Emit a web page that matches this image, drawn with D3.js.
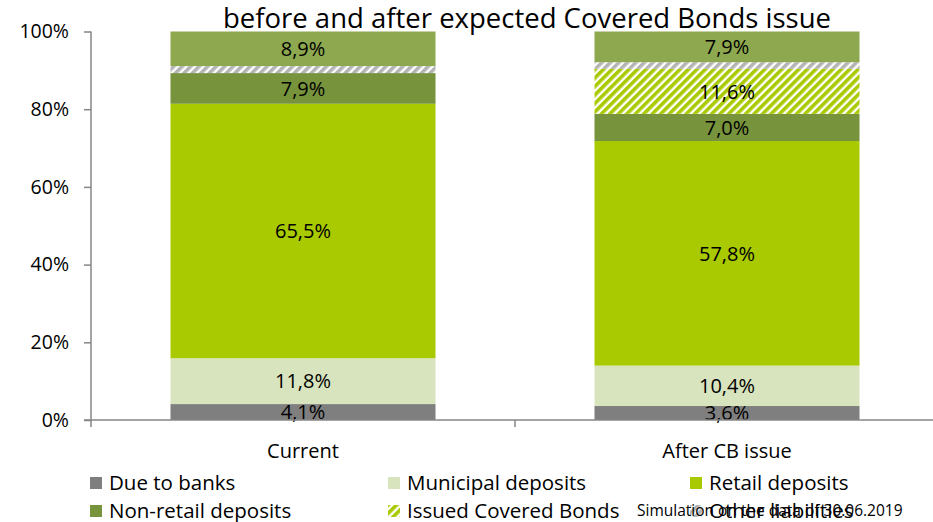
<!DOCTYPE html>
<html>
<head>
<meta charset="utf-8">
<script src="https://cdn.jsdelivr.net/npm/d3@7"></script>
<style>
  body { margin: 0; background: #fff; }
  svg { display: block; font-family: "Open Sans", sans-serif; }
</style>
</head>
<body>
<div id="chart"></div>
<script>
// categories on the x axis
const categories = ["Current", "After CB issue"];

// series values in % (bottom to top of each bar)
const dueToBanks = [4.1, 3.6];
const municipalDeposits = [11.8, 10.4];
const retailDeposits = [65.5, 57.8];
const nonRetailDeposits = [7.9, 7.0];
const issuedCoveredBonds = [0, 11.6];
const otherLiabilities = [1.8, 1.7];
const topSegment = [8.9, 7.9];   // its legend entry falls below the visible area

const seriesNames = ["Due to banks", "Municipal deposits", "Retail deposits",
  "Non-retail deposits", "Issued Covered Bonds", "Other liabilities", "top"];
const seriesValues = [dueToBanks, municipalDeposits, retailDeposits,
  nonRetailDeposits, issuedCoveredBonds, otherLiabilities, topSegment];

const yTicks = [0, 20, 40, 60, 80, 100];

const title = "before and after expected Covered Bonds issue";
const note = "Simulation on the data of 30.06.2019";

// build rows for d3.stack
let rows = categories.map(function(c, i) {
  let r = { category: c };
  seriesNames.forEach(function(s, j) { r[s] = seriesValues[j][i]; });
  return r;
});

let width = 933, height = 522;

let svg = d3.select("#chart").append("svg")
  .attr("width", width).attr("height", height);

// hatch patterns
let defs = svg.append("defs");
function hatch(id, color) {
  let p = defs.append("pattern")
    .attr("id", id)
    .attr("patternUnits", "userSpaceOnUse")
    .attr("width", 6).attr("height", 6)
    .attr("patternTransform", "rotate(45)");
  p.append("rect").attr("width", 6).attr("height", 6).attr("fill", "#fff");
  p.append("rect").attr("width", 3.6).attr("height", 6).attr("fill", color);
}
hatch("hatchGreen", "#a9c900");
hatch("hatchGrey", "#b4b4b4");

let colors = {
  "Due to banks": "#7f7f7f",
  "Municipal deposits": "#d7e4bd",
  "Retail deposits": "#a9c900",
  "Non-retail deposits": "#77933c",
  "Issued Covered Bonds": "url(#hatchGreen)",
  "Other liabilities": "url(#hatchGrey)",
  "top": "#8da84f"
};

let x = d3.scaleBand().domain(categories).range([91, 939])
  .paddingInner(0.375).paddingOuter(0.1875);
let y = d3.scaleLinear().domain([0, 100]).range([420, 31.5]);

let stack = d3.stack().keys(seriesNames)(rows);

let comma = d3.formatLocale({ decimal: ",", thousands: " ", grouping: [3], currency: ["", ""] }).format(".1f");

// bars
let layers = svg.append("g").selectAll("g")
  .data(stack).enter().append("g")
  .attr("fill", function(d) { return colors[d.key]; });

layers.selectAll("rect")
  .data(function(d) { return d; })
  .enter().append("rect")
  .attr("x", function(d) { return x(d.data.category); })
  .attr("width", x.bandwidth())
  .attr("y", function(d) { return y(d[1]); })
  .attr("height", function(d) { return y(d[0]) - y(d[1]); });

// segment labels
layers.selectAll("text")
  .data(function(d) { return d.filter(function(s) { return s[1] - s[0] >= 3; }); })
  .enter().append("text")
  .attr("x", function(d) { return x(d.data.category) + x.bandwidth() / 2; })
  .attr("y", function(d) { return (y(d[0]) + y(d[1])) / 2; })
  .attr("dy", "0.36em")
  .attr("text-anchor", "middle")
  .attr("fill", "#000")
  .style("font-size", "20px")
  .text(function(d) { return comma(d[1] - d[0]) + "%"; });

// y axis
let yAxis = d3.axisLeft(y).tickValues(yTicks).tickSize(7).tickPadding(15)
  .tickFormat(function(d) { return d + "%"; });
let gy = svg.append("g").attr("transform", "translate(91,0)").call(yAxis);
gy.select(".domain").attr("stroke", "#868686").attr("stroke-width", 1.5)
  .attr("d", "M0," + y(100) + "V" + (y(0) + 7));
gy.selectAll(".tick line").attr("stroke", "#868686").attr("stroke-width", 1.5);
gy.selectAll(".tick text").attr("fill", "#000").style("font-size", "19.5px")
  .style("font-family", "Open Sans, sans-serif");

// x axis
let xAxis = d3.axisBottom(x).tickSize(0).tickPadding(24);
let gx = svg.append("g").attr("transform", "translate(0," + y(0) + ")").call(xAxis);
gx.select(".domain").attr("stroke", "#868686").attr("stroke-width", 1.5)
  .attr("d", "M84,0H939");
gx.selectAll(".tick text").attr("fill", "#000").style("font-size", "20px")
  .style("font-family", "Open Sans, sans-serif");
// category boundary ticks
let bounds = [x.range()[0] + x.step(), x.range()[1]];
gx.selectAll("line.sep").data(bounds).enter().append("line")
  .attr("class", "sep")
  .attr("x1", function(d) { return d; }).attr("x2", function(d) { return d; })
  .attr("y1", 0).attr("y2", 7)
  .attr("stroke", "#868686").attr("stroke-width", 1.5);

// title
svg.append("text")
  .attr("x", 527).attr("y", 28)
  .attr("text-anchor", "middle")
  .style("font-size", "27.5px")
  .text(title);

// legend (only six entries fit in view)
let legendX = [90, 388, 690];
let legendY = [483, 511];
let legend = svg.append("g").selectAll("g")
  .data(seriesNames.slice(0, 6)).enter().append("g")
  .attr("transform", function(d, i) {
    return "translate(" + legendX[i % 3] + "," + legendY[Math.floor(i / 3)] + ")";
  });
legend.append("rect")
  .attr("x", 0).attr("y", -6).attr("width", 12).attr("height", 12)
  .attr("fill", function(d) { return colors[d]; });
legend.append("text")
  .attr("x", 19).attr("dy", "0.36em")
  .style("font-size", "20.5px")
  .text(function(d) { return d; });

// note
svg.append("text")
  .attr("x", 637).attr("y", 511).attr("dy", "0.35em")
  .style("font-size", "15.5px")
  .text(note);
</script>
</body>
</html>
